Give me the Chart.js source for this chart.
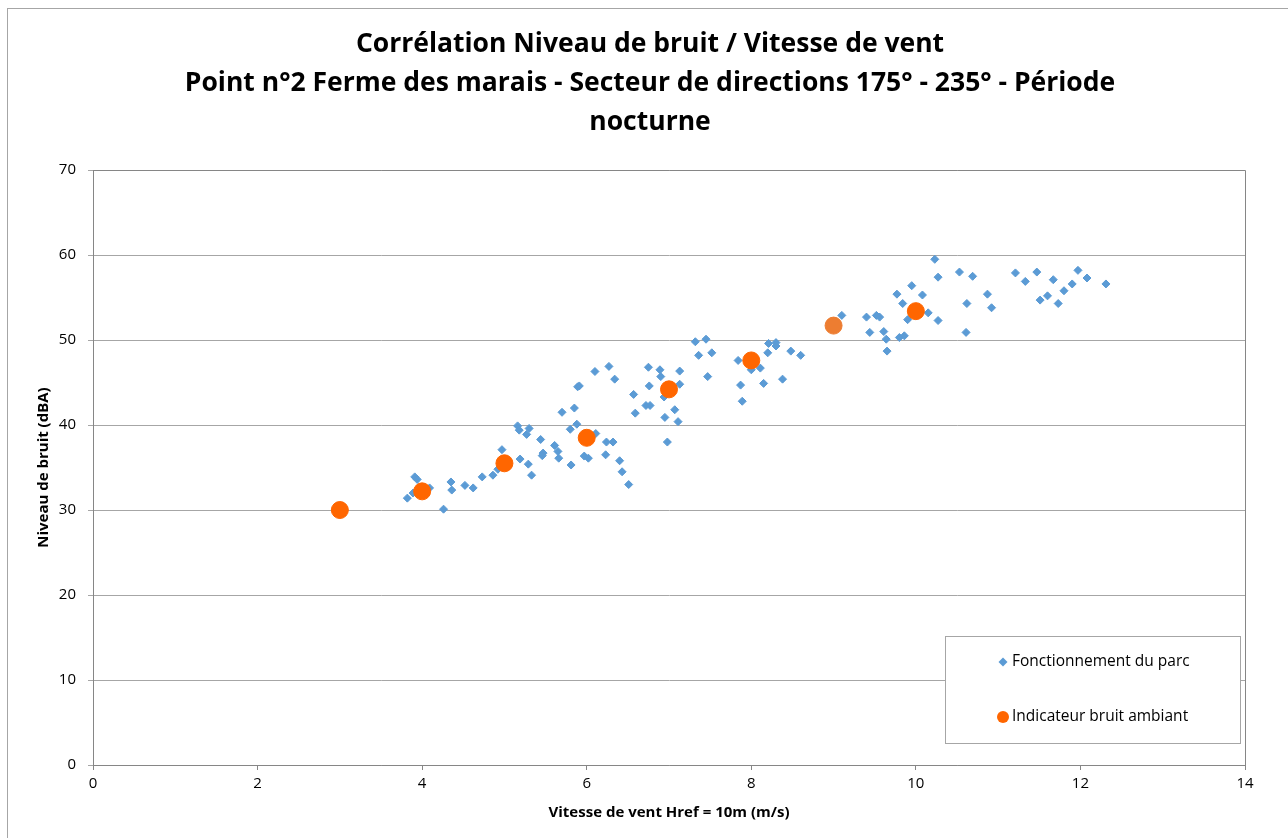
<!DOCTYPE html>
<html>
<head>
<meta charset="utf-8">
<script src="https://cdn.jsdelivr.net/npm/chart.js@4"></script>
<style>
  html, body { margin: 0; padding: 0; background: #fff; }
  #wrap { width: 1288px; height: 838px; }
</style>
</head>
<body>
<div id="wrap"><canvas id="myChart" width="1288" height="838"></canvas></div>
<script>
// wind speed (m/s) and noise level (dBA) for the "park running" measurements
const parkWind = [
  3.82, 3.91, 3.94, 3.89, 4.09, 4.26, 4.35, 4.36, 4.52, 4.62, 4.73, 4.86, 4.92, 4.97,
  5.19, 5.16, 5.18, 5.30, 5.27, 5.29, 5.33, 5.44, 5.47, 5.46, 5.61, 5.65, 5.66, 5.70,
  5.81, 5.80, 5.85, 5.88, 5.89, 5.91, 5.97, 6.02, 6.11, 6.24, 6.32, 6.23, 6.40, 6.43,
  6.51, 6.10, 6.27, 6.34, 6.57, 6.59, 6.72, 6.77, 6.76, 6.75, 6.89, 6.90, 6.94, 6.95,
  6.98, 7.07, 7.11, 7.13, 7.13, 7.32, 7.45, 7.36, 7.52, 7.47, 7.84, 8.00, 7.87, 7.89,
  8.11, 8.15, 8.20, 8.21, 8.30, 8.30, 8.38, 8.48, 8.60, 9.10, 9.40, 9.52, 9.56, 9.44,
  9.61, 9.64, 9.65, 9.80, 9.86, 9.77, 9.84, 9.95, 9.90, 10.08, 10.15, 10.27, 10.23,
  10.27, 10.53, 10.69, 10.62, 10.61, 10.87, 10.92, 11.21, 11.33, 11.47, 11.51, 11.60,
  11.67, 11.73, 11.80, 11.90, 11.97, 12.08, 12.31
];
const parkNoise = [
  31.4, 33.9, 33.6, 32.0, 32.6, 30.1, 33.3, 32.35, 32.9, 32.6, 33.9, 34.1, 34.8, 37.1,
  36.0, 39.9, 39.4, 39.6, 38.9, 35.4, 34.1, 38.3, 36.7, 36.4, 37.6, 36.9, 36.1, 41.5,
  35.3, 39.5, 42.0, 40.1, 44.5, 44.6, 36.35, 36.1, 39.0, 38.0, 38.0, 36.5, 35.8, 34.5,
  33.0, 46.3, 46.9, 45.4, 43.6, 41.4, 42.3, 42.3, 44.6, 46.8, 46.5, 45.7, 43.3, 40.9,
  38.0, 41.8, 40.4, 46.35, 44.8, 49.8, 50.1, 48.2, 48.5, 45.7, 47.6, 46.5, 44.7, 42.8,
  46.7, 44.9, 48.5, 49.6, 49.7, 49.3, 45.4, 48.7, 48.2, 52.9, 52.7, 52.9, 52.7, 50.9,
  51.0, 50.1, 48.7, 50.3, 50.5, 55.4, 54.3, 56.4, 52.4, 55.3, 53.2, 52.3, 59.5,
  57.4, 58.0, 57.5, 54.3, 50.9, 55.4, 53.8, 57.9, 56.9, 58.0, 54.7, 55.2,
  57.1, 54.3, 55.8, 56.6, 58.2, 57.3, 56.6
];

// ambient noise indicator per integer wind speed
const ambientWind = [3, 4, 5, 6, 7, 8, 9, 10];
const ambientNoise = [30.0, 32.2, 35.5, 38.5, 44.2, 47.6, 51.7, 53.4];

const xTicks = [0, 2, 4, 6, 8, 10, 12, 14];
const yTicks = [0, 10, 20, 30, 40, 50, 60, 70];

const titleLines = [
  "Corrélation Niveau de bruit / Vitesse de vent",
  "Point n°2 Ferme des marais - Secteur de directions 175° - 235° - Période",
  "nocturne"
];

const blue = "#5B9BD5";
const orange = "#FF6600";
const orangeAlt = "#ED7D31";
const gridGray = "#A6A6A6";
const axisGray = "#868686";
const fontFam = "'Open Sans', 'DejaVu Sans', sans-serif";

// plot frame, outer border and the boxed legend (Excel style)
const framePlugin = {
  id: "frame",
  beforeDraw(chart) {
    const ctx = chart.ctx;
    ctx.save();
    ctx.fillStyle = "#fff";
    ctx.fillRect(0, 0, chart.width, chart.height);
    ctx.strokeStyle = gridGray;
    ctx.lineWidth = 1;
    ctx.strokeRect(7.5, 8.5, chart.width + 20, chart.height + 20);
    ctx.restore();
  },
  afterDatasetsDraw(chart) {
    const ctx = chart.ctx;
    const a = chart.chartArea;
    ctx.save();
    ctx.strokeStyle = axisGray;
    ctx.lineWidth = 1;
    ctx.beginPath();
    ctx.moveTo(Math.round(a.left) + 0.5, Math.round(a.top) + 0.5);
    ctx.lineTo(Math.round(a.right) + 0.5, Math.round(a.top) + 0.5);
    ctx.lineTo(Math.round(a.right) + 0.5, Math.round(a.bottom) + 0.5);
    ctx.stroke();
    ctx.restore();
  },
  afterDraw(chart) {
    const ctx = chart.ctx;
    const bx = 945.5, by = 636.5, bw = 295, bh = 107;
    ctx.save();
    ctx.fillStyle = "#fff";
    ctx.fillRect(bx, by, bw, bh);
    ctx.strokeStyle = gridGray;
    ctx.lineWidth = 1;
    ctx.strokeRect(bx, by, bw, bh);

    const items = chart.data.datasets.slice().sort((p, q) => q.order - p.order);
    const rows = [662, 717];
    ctx.font = "15.5px " + fontFam;
    ctx.textBaseline = "middle";
    ctx.textAlign = "left";
    items.forEach((ds, i) => {
      const y = rows[i];
      const x = 1003;
      ctx.fillStyle = ds.legendColor;
      ctx.beginPath();
      if (ds.pointStyle === "rectRot") {
        ctx.moveTo(x - 4.5, y);
        ctx.lineTo(x, y - 4.5);
        ctx.lineTo(x + 4.5, y);
        ctx.lineTo(x, y + 4.5);
        ctx.closePath();
      } else {
        ctx.arc(x, y, 6, 0, Math.PI * 2);
      }
      ctx.fill();
      ctx.fillStyle = "#000";
      ctx.fillText(ds.label, 1012, y);
    });
    ctx.restore();
  }
};

const parkPoints = parkWind.map((w, i) => ({ x: w, y: parkNoise[i] }));
const ambientPoints = ambientWind.map((w, i) => ({ x: w, y: ambientNoise[i] }));

const ctx = document.getElementById("myChart").getContext("2d");
const myChart = new Chart(ctx, {
  type: "scatter",
  data: {
    datasets: [
      {
        label: "Fonctionnement du parc",
        data: parkPoints,
        order: 1,
        pointStyle: "rectRot",
        pointRadius: 4,
        pointBorderWidth: 1,
        backgroundColor: blue,
        borderColor: blue,
        legendColor: blue
      },
      {
        label: "Indicateur bruit ambiant",
        data: ambientPoints,
        order: 0,
        pointStyle: "circle",
        pointRadius: 8.5,
        pointBorderWidth: 1,
        // the 9 m/s point is drawn in Excel's default orange
        backgroundColor: (c) => (c.raw && c.raw.x === 9 ? orangeAlt : orange),
        borderColor: (c) => (c.raw && c.raw.x === 9 ? orangeAlt : orange),
        legendColor: orange
      }
    ]
  },
  options: {
    responsive: false,
    animation: false,
    layout: {
      padding: { left: 55, right: 43, top: 0, bottom: 0 }
    },
    plugins: {
      legend: { display: false },
      tooltip: { enabled: true },
      title: {
        display: true,
        text: titleLines,
        color: "#000",
        font: { family: fontFam, size: 26.5, weight: "bold", lineHeight: 1.46 },
        padding: { top: 25.5, bottom: 28.5 }
      }
    },
    scales: {
      x: {
        type: "linear",
        min: 0,
        max: 14,
        afterBuildTicks: (s) => { s.ticks = xTicks.map((v) => ({ value: v })); },
        afterFit: (s) => { s.height = 73; },
        border: { display: true, color: axisGray },
        grid: { drawOnChartArea: false, drawTicks: true, tickLength: 5, color: axisGray },
        ticks: {
          padding: 5,
          color: "#000",
          font: { family: fontFam, size: 15 }
        },
        title: {
          display: true,
          text: "Vitesse de vent Href = 10m (m/s)",
          color: "#000",
          font: { family: fontFam, size: 15, weight: "bold" },
          padding: { top: 0, bottom: 16 }
        }
      },
      y: {
        type: "linear",
        min: 0,
        max: 70,
        afterBuildTicks: (s) => { s.ticks = yTicks.map((v) => ({ value: v })); },
        afterFit: (s) => { s.width = 38; },
        border: { display: true, color: axisGray },
        grid: { drawOnChartArea: true, drawTicks: true, tickLength: 5, color: gridGray },
        ticks: {
          padding: 12,
          color: "#000",
          font: { family: fontFam, size: 15 }
        },
        title: {
          display: true,
          text: "Niveau de bruit (dBA)",
          color: "#000",
          font: { family: fontFam, size: 15, weight: "bold" },
          padding: { top: -20, bottom: 0 }
        }
      }
    }
  },
  plugins: [framePlugin]
});
</script>
</body>
</html>
